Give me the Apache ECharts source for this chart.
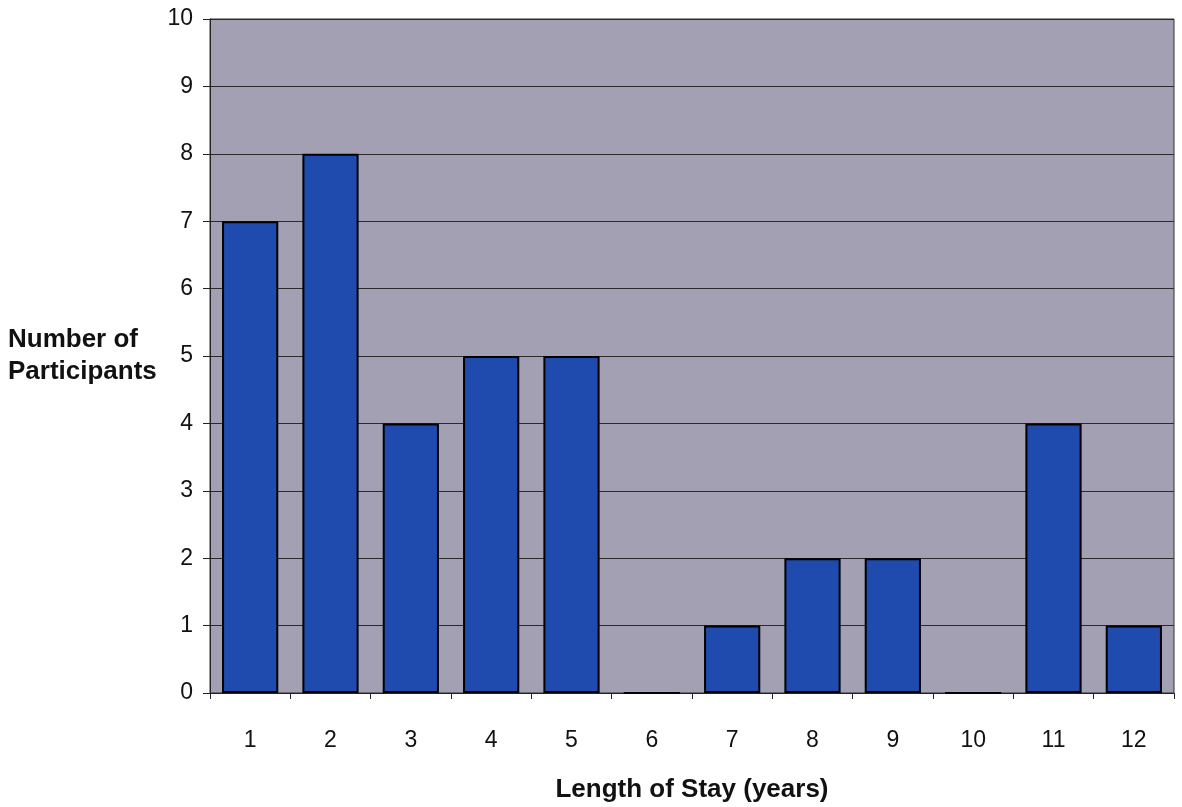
<!DOCTYPE html>
<html><head><meta charset="utf-8">
<script src="https://cdn.jsdelivr.net/npm/echarts@6/dist/echarts.min.js"></script>
<style>html,body{margin:0;padding:0;background:#fff}#c{width:1182px;height:807px}</style>
</head><body><div id="c"></div>
<script>
const categories = ['1','2','3','4','5','6','7','8','9','10','11','12'];
const participants = [7, 8, 4, 5, 5, 0, 1, 2, 2, 0, 4, 1];
const yTicks = [0,1,2,3,4,5,6,7,8,9,10];
const xTitle = 'Length of Stay (years)';
const yTitle = 'Number of\nParticipants';

const chart = echarts.init(document.getElementById('c'));
chart.setOption({
  backgroundColor: '#ffffff',
  animation: false,
  grid: { left: 210, right: 8, top: 19, bottom: 114, containLabel: false, outerBoundsMode: 'none',
    show: true, backgroundColor: '#a4a0b4', borderColor: '#333', borderWidth: 1 },
  xAxis: {
    type: 'category',
    data: categories,
    name: xTitle,
    nameLocation: 'middle',
    nameGap: 84,
    nameTextStyle: { fontFamily: 'Liberation Sans, Arial', fontWeight: 'bold', fontSize: 26, color: '#111' },
    axisLine: { lineStyle: { color: '#222', width: 1 } },
    axisTick: { show: true, alignWithLabel: false, length: 6, lineStyle: { color: '#222' } },
    axisLabel: { fontFamily: 'Liberation Sans, Arial', fontSize: 23, color: '#111', margin: 36 }
  },
  yAxis: {
    type: 'value',
    min: 0, max: 10, interval: 1,
    name: yTitle,
    nameLocation: 'middle',
    nameRotate: 0,
    nameGap: 202,
    nameTextStyle: { fontFamily: 'Liberation Sans, Arial', fontWeight: 'bold', fontSize: 26, color: '#111', align: 'left', verticalAlign: 'middle', lineHeight: 32 },
    axisLine: { show: true, lineStyle: { color: '#222', width: 1 } },
    axisTick: { show: true, length: 7, lineStyle: { color: '#222' } },
    axisLabel: { fontFamily: 'Liberation Sans, Arial', fontSize: 23, color: '#111', margin: 17,
      formatter: v => yTicks.includes(v) ? String(v) : '' },
    splitLine: { show: true, lineStyle: { color: '#2a2a2a', width: 1 } }
  },
  series: [{
    type: 'bar',
    data: participants,
    barCategoryGap: '30%',
    itemStyle: { color: '#1e4bad', borderColor: '#000', borderWidth: 2 }
  }]
});
</script></body></html>
